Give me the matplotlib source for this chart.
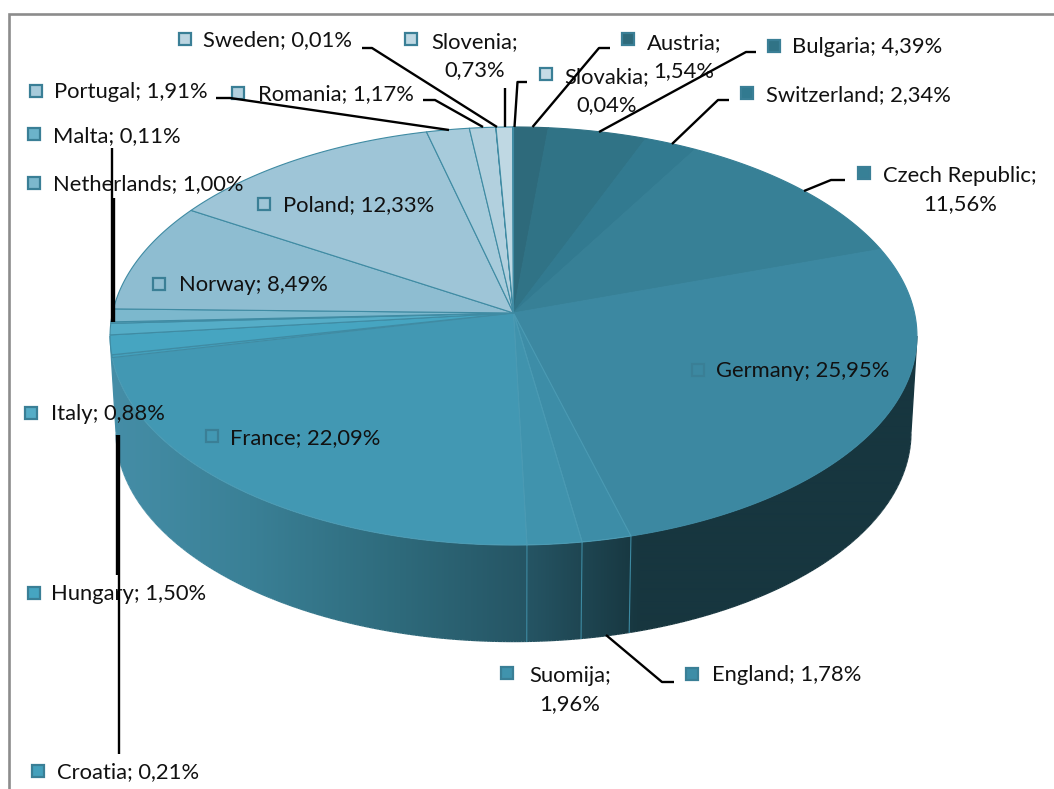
import numpy as np
import matplotlib
matplotlib.use("Agg")
import matplotlib.pyplot as plt
from matplotlib.colors import to_rgb
from matplotlib.patches import Polygon, Rectangle
from matplotlib.collections import LineCollection

# ---- data -------------------------------------------------------------
countries = ["Austria", "Bulgaria", "Switzerland", "Czech Republic", "Germany",
             "England", "Suomija", "France", "Croatia", "Hungary", "Italy",
             "Malta", "Netherlands", "Norway", "Poland", "Portugal", "Romania",
             "Sweden", "Slovenia", "Slovakia"]
shares = [1.54, 4.39, 2.34, 11.56, 25.95, 1.78, 1.96, 22.09, 0.21, 1.50, 0.88,
          0.11, 1.00, 8.49, 12.33, 1.91, 1.17, 0.01, 0.73, 0.04]

# ---- styles -----------------------------------------------------------
slice_colors = ["#2e6a7b", "#307386", "#327a90", "#378096", "#3c88a1",
                "#3d8da7", "#4093ad", "#4298b3", "#44a0bc", "#46a5c1",
                "#55adc7", "#6cb3ca", "#7cb8cd", "#8ebdd1", "#9ec5d7",
                "#a7cbdb", "#b2d0de", "#bcd5e1", "#bfd8e3", "#c6dce6"]
slice_edges = slice_colors[:5] + ["#4a9ab3"] * 3 + ["#3f8ba3"] * 12
square_edge = "#3a7f96"

# label layout: name -> (square x, square y, text x, text y, wrapped)
label_layout = {
    "Sweden": (185, 39, 203, 40, False),
    "Slovenia": (411, 39, 475, 56, True),
    "Austria": (628, 39, 684, 57, True),
    "Slovakia": (546, 74, 607, 91, True),
    "Bulgaria": (774, 46, 792, 47, False),
    "Switzerland": (747, 93, 766, 95, False),
    "Czech Republic": (864, 173, 960, 190, True),
    "Portugal": (36, 91, 54, 92, False),
    "Romania": (238, 93, 258, 94, False),
    "Malta": (34, 134, 53, 136, False),
    "Netherlands": (34, 183, 53, 184, False),
    "Poland": (264, 204, 283, 205, False),
    "Norway": (159, 284, 179, 285, False),
    "Germany": (698, 370, 716, 371, False),
    "France": (212, 436, 230, 438, False),
    "Italy": (31, 413, 51, 414, False),
    "Hungary": (34, 593, 51, 594, False),
    "Croatia": (38, 771, 57, 772, False),
    "Suomija": (507, 673, 570, 690, True),
    "England": (692, 674, 712, 675, False),
}

leaders = [
    [(362, 48), (372, 48), (497, 127)],
    [(505, 88), (505, 127)],
    [(527, 82), (517.5, 82), (514.5, 127)],
    [(610, 48), (599, 48), (532.5, 127)],
    [(756, 52), (746, 52), (599, 132)],
    [(729, 100), (718, 100), (672, 144)],
    [(845, 180), (831, 180), (804, 191)],
    [(423, 100), (435, 100), (483, 127)],
    [(216, 98), (230, 98), (449, 130)],
    [(112, 148), (112, 322)],
    [(113.5, 198), (113.5, 322)],
    [(117, 435), (117, 575)],
    [(118.5, 435), (118.5, 754)],
    [(674, 682), (662, 682), (606, 635)],
]

# ---- pie geometry (a tilted disc seen in perspective) --------------------
CX, CY, RX, RY, PERSP = 513.5, 313.0, 401.0, 206.5, 0.11
DEPTH, BOTTOM_SCALE = 96.5, 0.985


def top_face(theta):
    u, v = np.sin(theta), np.cos(theta)
    w = 1 + PERSP * v
    return CX + RX * u / w, CY - RY * v / w


def bottom_face(theta):
    u, v = np.sin(theta), np.cos(theta)
    w = 1 + PERSP * v
    return CX + RX * BOTTOM_SCALE * u / w, CY + DEPTH - RY * v / w


def wall_color(x):
    stops = [110, 250, 400, 530, 640, 920]
    cols = np.array([to_rgb(c) for c in ["#458ea7", "#3a8096", "#2e6a7b",
                                         "#255463", "#17363f", "#17363f"]])
    return np.stack([np.interp(x, stops, cols[:, i]) for i in range(3)], axis=-1)


values = np.asarray(shares, dtype=float)
edges = np.concatenate([[0], np.cumsum(values)]) / values.sum() * 2 * np.pi

fig = plt.figure(figsize=(10.54, 7.89), dpi=100, facecolor="white")
ax = fig.add_axes([0, 0, 1, 1])

# frame of the original chart area
ax.plot([8.5, 8.5, 1054], [789, 13.5, 13.5], color="#8c8c8c", lw=1.9,
        solid_joinstyle="miter", zorder=1)

# side wall: a left-to-right gradient clipped to the wall outline.
# The arcs run between the two silhouette points of the disc.
side = np.arccos(-PERSP)
ts = np.linspace(side, 2 * np.pi - side, 481)
tx_, ty_ = top_face(ts)
bx_, by_ = bottom_face(ts)
wall_outline = np.column_stack([np.r_[tx_, bx_[::-1]], np.r_[ty_, by_[::-1]]])
wall_patch = Polygon(wall_outline, closed=True, facecolor="none", edgecolor="none",
                     transform=ax.transData)
ax.add_patch(wall_patch)
grad_x = np.arange(100, 930)
grad = wall_color(grad_x)[np.newaxis, :, :]
img = ax.imshow(grad, extent=(100, 930, 700, 300), aspect="auto", zorder=2,
                interpolation="bilinear")
img.set_clip_path(wall_patch)

# smooth the outer rim of the wall
rim_x = np.r_[tx_[0], bx_, tx_[-1]]
rim_y = np.r_[ty_[0], by_, ty_[-1]]
segs = np.stack([np.column_stack([rim_x[:-1], rim_y[:-1]]),
                 np.column_stack([rim_x[1:], rim_y[1:]])], axis=1)
ax.add_collection(LineCollection(segs, colors=wall_color((rim_x[:-1] + rim_x[1:]) / 2),
                                 linewidths=1.0, zorder=2.5))

# seams in the wall between the visible front slices
for e in edges[5:8]:
    x0, y0 = top_face(e)
    x1, y1 = bottom_face(e)
    ax.plot([x0, x1], [y0, y1], color="#3d8aa2", lw=0.8, zorder=3)

# top face slices
for i in range(len(values)):
    th = np.linspace(edges[i], edges[i + 1], max(3, int(values[i] * 8)))
    xs, ys = top_face(th)
    pts = np.column_stack([np.r_[CX, xs], np.r_[CY, ys]])
    ax.add_patch(Polygon(pts, closed=True, facecolor=slice_colors[i],
                         edgecolor=slice_edges[i], lw=0.8, zorder=4,
                         joinstyle="round"))

# labels and their colour squares
SQ = 12
for name, share, col in zip(countries, shares, slice_colors):
    sx, sy, tx, ty, wrapped = label_layout[name]
    ax.add_patch(Rectangle((sx - SQ / 2, sy - SQ / 2), SQ, SQ, facecolor=col,
                           edgecolor=square_edge, lw=1.6, zorder=6))
    val = f"{share:.2f}".replace(".", ",") + "%"
    txt = f"{name};\n{val}" if wrapped else f"{name}; {val}"
    ax.text(tx, ty, txt, family="Lato", fontsize=15.8, color="#111111",
            ha="center" if wrapped else "left", va="center",
            multialignment="center", linespacing=1.5, zorder=7)

# leader lines
for line in leaders:
    xs, ys = zip(*line)
    ax.plot(xs, ys, color="black", lw=1.7, solid_capstyle="butt",
            solid_joinstyle="round", zorder=8)

ax.set_xlim(0, 1054)
ax.set_ylim(789, 0)
ax.axis("off")

fig.savefig("out.png", dpi=100)
